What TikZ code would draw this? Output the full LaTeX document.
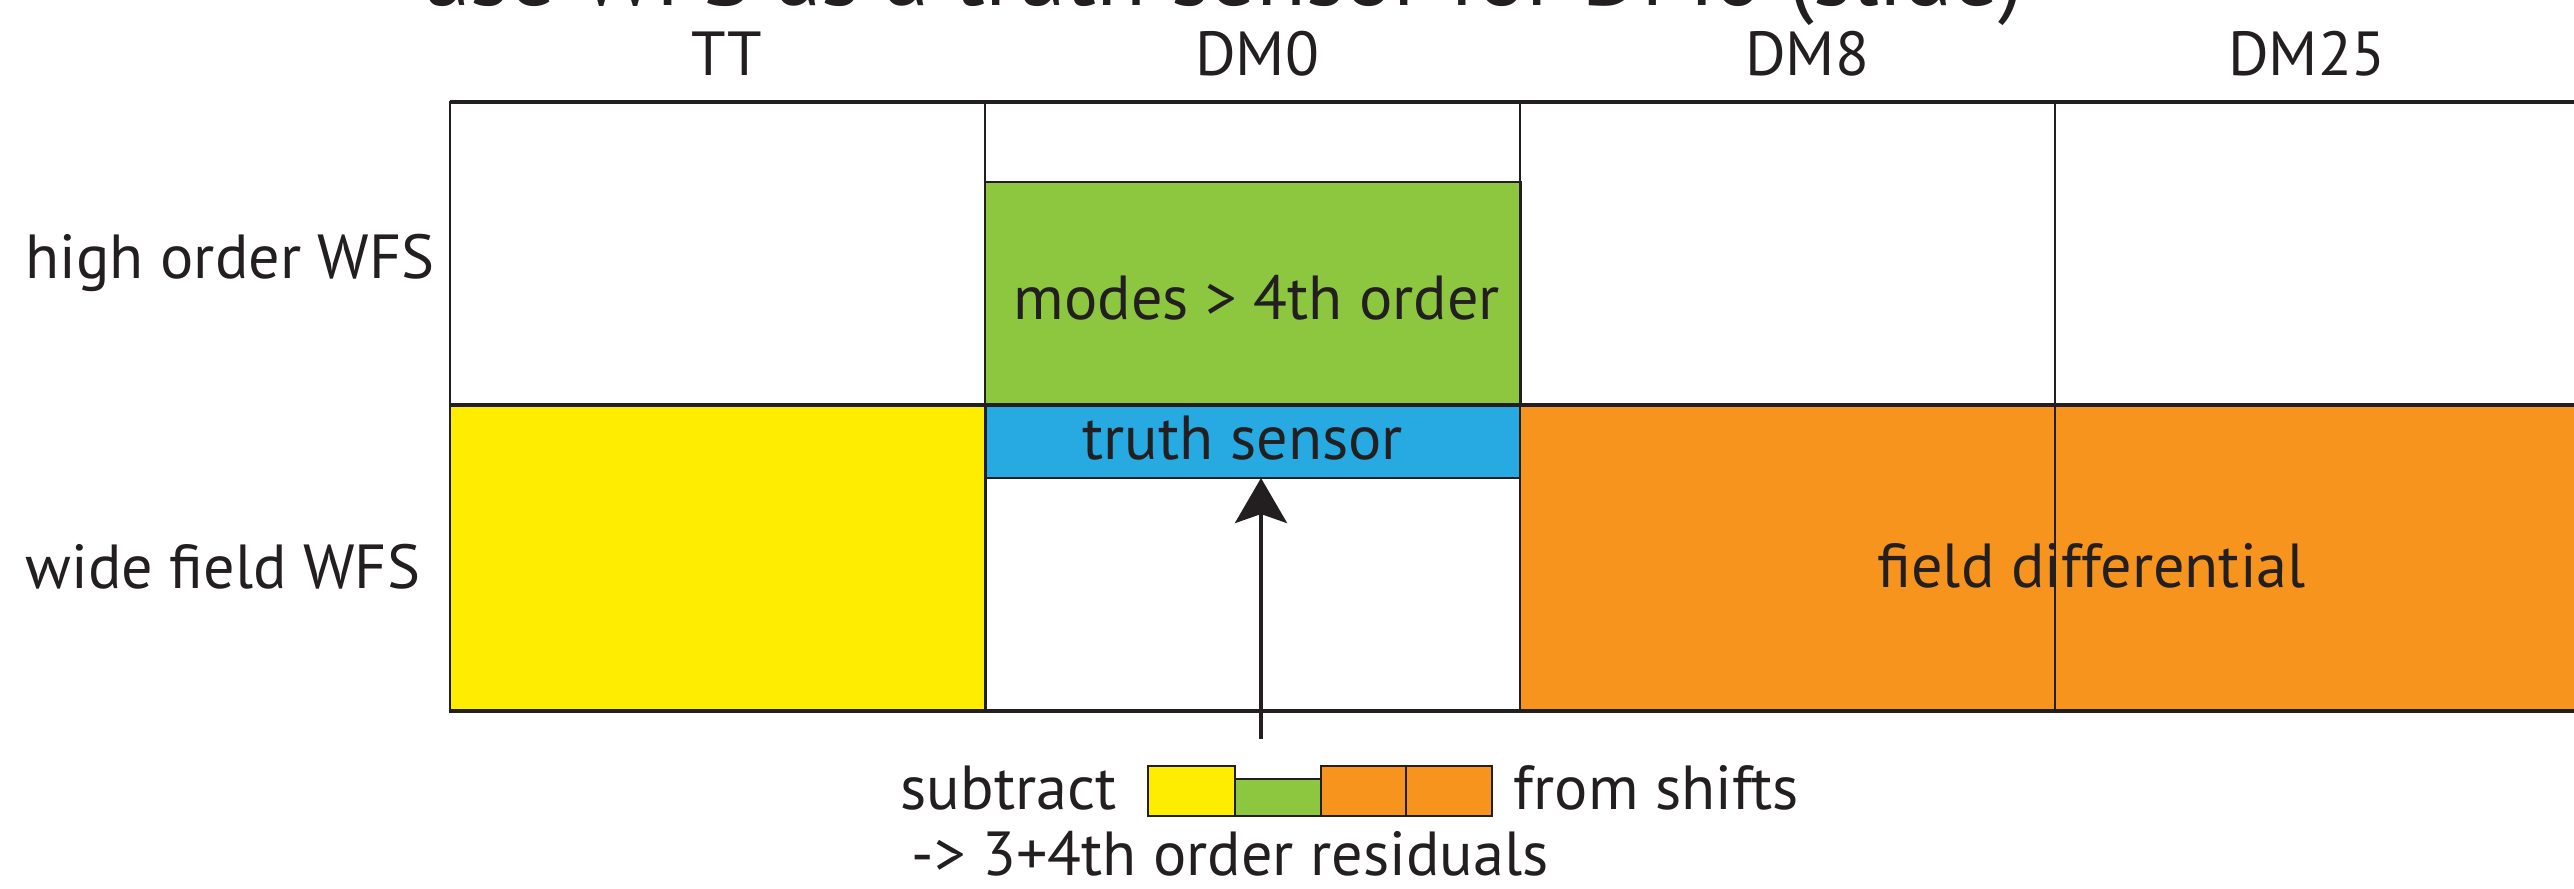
\documentclass[tikz,border=0pt]{standalone}
\usepackage{fontspec}
\setmainfont{PT Sans}
\usetikzlibrary{arrows.meta}
\definecolor{ink}{HTML}{231F20}
\definecolor{cyel}{HTML}{FFED00}
\definecolor{cgrn}{HTML}{8DC63F}
\definecolor{cblu}{HTML}{27AAE1}
\definecolor{corg}{HTML}{F7941D}
\begin{document}
\begin{tikzpicture}[x=0.01cm,y=-0.01cm,
  cell/.style={rectangle, inner sep=0pt, outer sep=0pt, anchor=north west, draw=ink, line width=0.8pt},
  lbl/.style={text=ink, inner sep=0pt, font=\fontsize{17.7}{20}\selectfont},
  ttl/.style={text=ink, inner sep=0pt, font=\fontsize{26}{28}\selectfont},
  rule/.style={draw=ink, line width=0.8pt},
  thin/.style={draw=ink, line width=0.5pt},
  thick/.style={draw=ink, line width=1.4pt},
  arr/.style={draw=ink, line width=1.1pt, -{Stealth[length=0.45cm, width=0.52cm, inset=0.09cm]}}
]
\useasboundingbox (0,0) rectangle (2574,889);
\clip (0,0) rectangle (2574,889);
\fill[white] (0,0) rectangle (2574,889);

% title (cut off at the top)
\node[ttl, anchor=base west] (title) at (421,6) {use WFS as a truth sensor for DM0 (slide)};

% column headers
\node[lbl, anchor=base] (hTT) at (727,76) {TT};
\node[lbl, anchor=base] (hDM0) at (1257,76) {DM0};
\node[lbl, anchor=base] (hDM8) at (1807,76) {DM8};
\node[lbl, anchor=base] (hDM25) at (2307,76) {DM25};

% row labels
\node[lbl, anchor=base west] (rHO) at (25,279) {high order WFS};
\node[lbl, anchor=base west] (rWF) at (25,589) {wide field WFS};

% table cells
\node[cell, minimum width=21.4cm, minimum height=6.09cm] (table) at (450,102) {};
\node[cell, fill=cgrn, minimum width=5.35cm, minimum height=2.23cm] (green) at (985,182) {};
\node[cell, fill=cblu, minimum width=5.35cm, minimum height=0.73cm] (truth) at (985,405) {};
\node[cell, fill=cyel, minimum width=5.35cm, minimum height=3.06cm] (yellow) at (450,405) {};
\node[cell, fill=corg, minimum width=10.7cm, minimum height=3.06cm] (orange) at (1520,405) {};

% grid lines
\draw[rule] (985,102) -- (985,711);
\draw[rule] (1520,102) -- (1520,711);
\draw[thin] (2055,102) -- (2055,711);
\draw[thick] (450,102) -- (2600,102);
\draw[thick] (450,405) -- (2600,405);
\draw[thick] (450,711) -- (2600,711);
\draw[rule] (450,102) -- (450,711);

% cell texts
\node[lbl, anchor=base west] (tmodes) at (1013,320) {modes > 4th order};
\node[lbl, anchor=base west] (ttruth) at (1082,460) {truth sensor};
\node[lbl, anchor=base west] (tfield) at (1877,588) {field differential};

% arrow
\coordinate (abot) at (1261,739);
\draw[arr] (abot) -- (abot |- truth.south);

% legend
\node[lbl, anchor=base west] (sub) at (900,810) {subtract};
\node[cell, fill=cyel, minimum width=0.87cm, minimum height=0.5cm] (ly) at (1148,766) {};
\node[cell, fill=cgrn, minimum width=0.86cm, minimum height=0.37cm] (lg) at (1235,779) {};
\node[cell, fill=corg, minimum width=0.85cm, minimum height=0.5cm] (lo1) at (1321,766) {};
\node[cell, fill=corg, minimum width=0.86cm, minimum height=0.5cm] (lo2) at (1406,766) {};
\node[lbl, anchor=base west] (shifts) at (1513,810) {from shifts};
\node[lbl, anchor=base west] (resid) at (911,876) {-> 3+4th order residuals};
\end{tikzpicture}
\end{document}
